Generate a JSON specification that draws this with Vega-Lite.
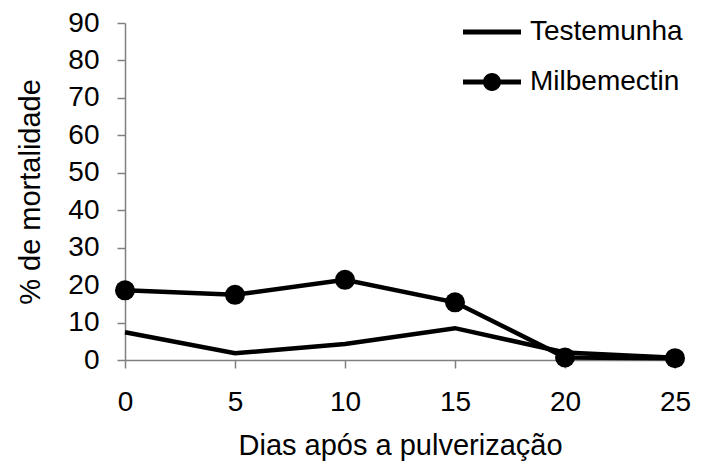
{
  "$schema": "https://vega.github.io/schema/vega-lite/v6.json",
  "width": 550,
  "height": 337,
  "autosize": {"type": "none"},
  "padding": {"left": 125, "top": 23, "right": 50, "bottom": 108},
  "background": "white",
  "config": {
    "view": {"stroke": null},
    "font": "Liberation Sans",
    "axis": {
      "grid": false,
      "domainColor": "#808080",
      "domainWidth": 1.5,
      "tickColor": "#808080",
      "tickWidth": 1.5,
      "tickSize": 8,
      "labelFont": "Liberation Sans",
      "labelFontSize": 28,
      "labelColor": "black",
      "titleFont": "Liberation Sans",
      "titleFontSize": 29,
      "titleFontWeight": "normal",
      "titleColor": "black"
    }
  },
  "data": {
    "values": [
      {"dias": 0, "series": "Testemunha", "mort": 7.4},
      {"dias": 5, "series": "Testemunha", "mort": 1.8},
      {"dias": 10, "series": "Testemunha", "mort": 4.3},
      {"dias": 15, "series": "Testemunha", "mort": 8.5},
      {"dias": 20, "series": "Testemunha", "mort": 2.0},
      {"dias": 25, "series": "Testemunha", "mort": 0.6},
      {"dias": 0, "series": "Milbemectin", "mort": 18.6},
      {"dias": 5, "series": "Milbemectin", "mort": 17.4},
      {"dias": 10, "series": "Milbemectin", "mort": 21.4},
      {"dias": 15, "series": "Milbemectin", "mort": 15.4},
      {"dias": 20, "series": "Milbemectin", "mort": 0.7},
      {"dias": 25, "series": "Milbemectin", "mort": 0.5}
    ]
  },
  "encoding": {
    "x": {
      "field": "dias",
      "type": "quantitative",
      "scale": {"domain": [0, 25], "nice": false, "zero": false},
      "axis": {"values": [0, 5, 10, 15, 20, 25], "title": "Dias após a pulverização", "labelPadding": 20, "titlePadding": 15, "labelFlush": false}
    },
    "y": {
      "field": "mort",
      "type": "quantitative",
      "scale": {"domain": [0, 90], "nice": false},
      "axis": {"values": [0, 10, 20, 30, 40, 50, 60, 70, 80, 90], "title": "% de mortalidade", "labelPadding": 18, "titlePadding": 22, "labelFlush": false}
    }
  },
  "layer": [
    {
      "mark": {"type": "line", "color": "black", "strokeWidth": 4.5, "clip": false},
      "encoding": {
        "detail": {"field": "series"},
        "order": {"field": "dias"}
      }
    },
    {
      "transform": [{"filter": "datum.series === 'Milbemectin'"}],
      "mark": {"type": "point", "shape": "circle", "filled": true, "color": "black", "opacity": 1, "size": 400, "clip": false}
    },
    {
      "transform": [{"filter": "false"}],
      "mark": {"type": "point", "filled": true, "color": "black", "opacity": 1, "size": 400},
      "encoding": {
        "shape": {
          "field": "series",
          "type": "nominal",
          "scale": {
            "domain": ["Testemunha", "Milbemectin"],
            "range": [
              "M-2.9,-0.25H2.9V0.25H-2.9Z",
              "M-2.9,-0.25H2.9V0.25H-2.9Z M0.9,0A0.9,0.9 0 1,1 -0.9,0A0.9,0.9 0 1,1 0.9,0Z"
            ]
          },
          "legend": {
            "title": null,
            "orient": "none",
            "legendX": 353,
            "legendY": -5,
            "padding": 0,
            "symbolSize": 400,
            "symbolStrokeWidth": 0,
            "symbolFillColor": "black",
            "symbolOpacity": 1,
            "labelFont": "Liberation Sans",
            "labelFontSize": 28,
            "labelColor": "black",
            "labelOffset": 24,
            "rowPadding": 22,
            "labelLimit": 300,
            "encode": {
              "symbols": {
                "update": {
                  "fill": {"value": "black"},
                  "fillOpacity": {"value": 1},
                  "opacity": {"value": 1}
                }
              }
            }
          }
        }
      }
    }
  ]
}
